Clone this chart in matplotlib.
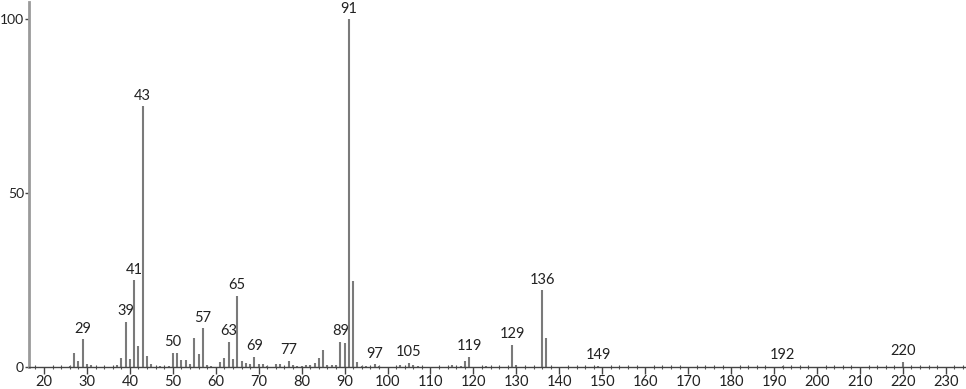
import matplotlib.pyplot as plt
from matplotlib.ticker import MultipleLocator

# m/z and relative intensity (%)
mz = [26, 27, 28, 29, 30, 31, 37, 38, 39, 40, 41, 42, 43, 44, 45, 47, 49,
      50, 51, 52, 53, 54, 55, 56, 57, 58, 59, 61, 62, 63, 64, 65, 66, 67, 68,
      69, 70, 71, 72, 74, 75, 77, 78, 79, 80, 81, 82, 83, 84, 85, 86, 87, 88,
      89, 90, 91, 92, 93, 94, 95, 97, 98, 103, 105, 106, 107, 115, 117, 118,
      119, 123, 129, 130, 136, 137, 149, 192, 220]
intensity = [0.4, 4.0, 1.6, 8.0, 1.0, 0.5, 0.7, 2.7, 13.0, 2.2, 25.0, 6.0,
             75.0, 3.3, 0.8, 0.3, 0.4, 4.1, 4.0, 2.0, 2.0, 1.0, 8.3, 3.7, 11.2,
             0.7, 0.3, 1.4, 2.7, 7.2, 2.4, 20.5, 1.8, 1.2, 1.0, 2.9, 1.0, 1.0,
             0.3, 1.0, 0.8, 1.8, 0.5, 0.3, 0.3, 0.5, 0.7, 1.2, 2.7, 5.0, 0.6,
             0.6, 0.6, 7.3, 6.8, 100.0, 24.7, 1.5, 0.3, 0.3, 0.8, 0.3, 0.5,
             1.2, 0.5, 0.3, 0.5, 0.3, 1.6, 2.9, 0.3, 6.4, 0.5, 22.0, 8.3, 0.3,
             0.4, 1.5]
labeled = [29, 39, 41, 43, 50, 57, 63, 65, 69, 77, 89, 91, 97, 105, 119,
           129, 136, 149, 192, 220]

plt.rcParams['font.family'] = ['Lato', 'DejaVu Sans']

fig = plt.figure(figsize=(9.66, 3.89), dpi=100)
ax = fig.add_axes([0.030, 0.0566, 0.970, 0.9384])

ax.vlines(mz, 0, intensity, color='#7a7a7a', lw=1.5)

peaks = dict(zip(mz, intensity))
for m in labeled:
    ax.text(m, peaks[m] + 1.0, str(m), ha='center', va='bottom',
            fontsize=10.5, color='#222222')

ax.set_xlim(16.5, 234.7)
ax.set_ylim(0, 105)
ax.set_yticks([0, 50, 100])
ax.xaxis.set_major_locator(MultipleLocator(10))
ax.xaxis.set_minor_locator(MultipleLocator(2))
ax.set_xticks(range(20, 231, 10))

ax.tick_params(axis='x', which='major', direction='out', length=5, width=1,
               color='#444444', labelsize=10.5, pad=1, labelcolor='#222222')
ax.tick_params(axis='x', which='minor', direction='inout', length=3,
               width=0.8, color='#555555')
ax.tick_params(axis='y', direction='out', length=3, width=1,
               color='#444444', labelsize=10, pad=0.5, labelcolor='#222222')

for s in ['top', 'right']:
    ax.spines[s].set_visible(False)
ax.spines['left'].set_color('#9a9a9a')
ax.spines['left'].set_linewidth(2)
ax.spines['bottom'].set_color('#444444')
ax.spines['bottom'].set_linewidth(1)

fig.savefig('out.png', dpi=100)
